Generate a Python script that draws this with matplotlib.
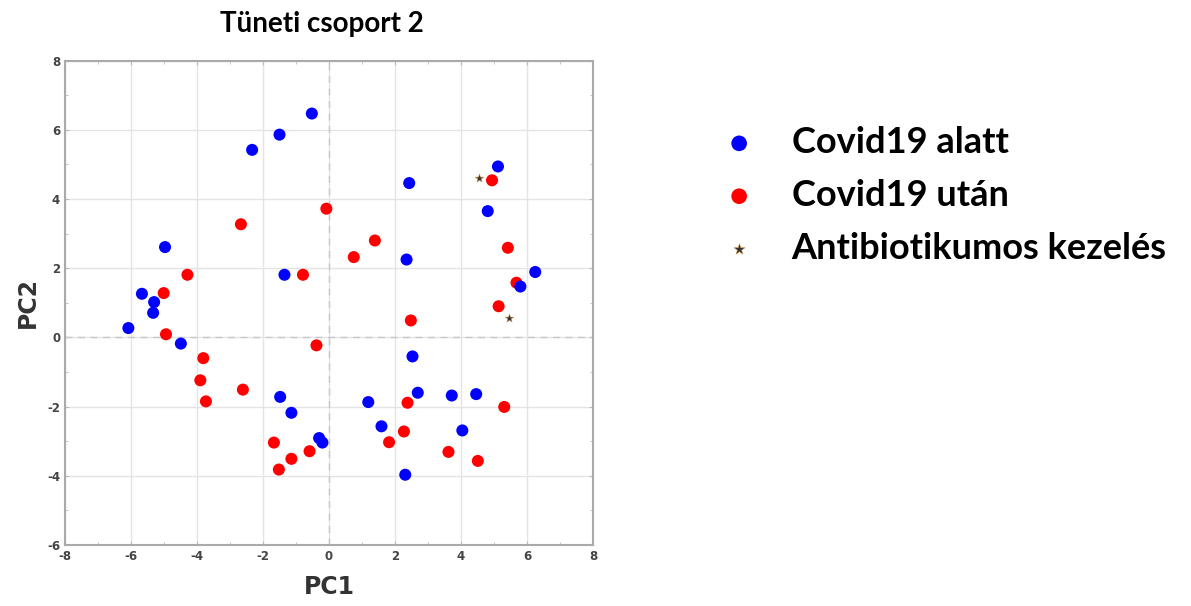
import matplotlib.pyplot as plt
import numpy as np

plt.rcParams['axes.unicode_minus'] = False

# PCA scores
alatt_pc1 = [-0.52, -1.50, -2.33, -4.97, -1.35, -5.67, -5.30, -5.33, -6.08, -4.49,
             -1.48, -1.14, -0.30, -0.20, 5.12, 2.43, 4.81, 2.35, 6.25, 5.80,
             2.53, 2.69, 3.72, 4.46, 1.19, 1.59, 4.04, 2.31]
alatt_pc2 = [6.47, 5.86, 5.42, 2.61, 1.81, 1.26, 1.02, 0.71, 0.27, -0.18,
             -1.72, -2.18, -2.91, -3.04, 4.94, 4.46, 3.65, 2.25, 1.89, 1.47,
             -0.55, -1.60, -1.68, -1.64, -1.87, -2.57, -2.69, -3.97]

utan_pc1 = [-0.08, -2.67, -4.29, -0.79, -5.01, 4.94, 1.39, 0.75, 5.42, 5.68,
            -4.94, -0.38, -3.81, -3.90, -2.61, -3.73, -1.67, -0.59, -1.14, -1.52,
            5.14, 2.48, 2.38, 5.31, 2.27, 1.82, 3.62, 4.51]
utan_pc2 = [3.72, 3.27, 1.81, 1.81, 1.28, 4.54, 2.80, 2.32, 2.59, 1.58,
            0.09, -0.23, -0.60, -1.24, -1.51, -1.85, -3.04, -3.29, -3.51, -3.82,
            0.90, 0.49, -1.89, -2.01, -2.72, -3.03, -3.31, -3.57]

ab_pc1 = [4.55, 5.46]
ab_pc2 = [4.62, 0.57]

labels = ['Covid19 alatt', 'Covid19 után', 'Antibiotikumos kezelés']

fig = plt.figure(figsize=(11.91, 6.06), dpi=100)
ax = fig.add_axes([0.0546, 0.1007, 0.4433, 0.7993])

ax.scatter(utan_pc1, utan_pc2, s=75, color='#ff0000', edgecolors='none', zorder=3, label=labels[1])
ax.scatter(alatt_pc1, alatt_pc2, s=75, color='#0000ff', edgecolors='none', zorder=3, label=labels[0])
ax.scatter(ab_pc1, ab_pc2, s=40, marker='*', color='#333333', edgecolors='#c08a40',
           linewidths=0.4, zorder=4, label=labels[2])

ax.set_xlim(-8, 8)
ax.set_ylim(-6, 8)
ax.set_xticks(np.arange(-8, 9, 2))
ax.set_yticks(np.arange(-6, 9, 2))
ax.set_xticks(np.arange(-8, 9, 1), minor=True)
ax.set_yticks(np.arange(-6, 9, 1), minor=True)
ax.grid(True, which='major', color='#e4e4e4', lw=1)
ax.axhline(0, color='#c8c8c8', ls=(0, (5, 4)), lw=1)
ax.axvline(0, color='#c8c8c8', ls=(0, (5, 4)), lw=1)
ax.tick_params(which='both', direction='in', color='#bbbbbb', labelsize=8.5,
               labelcolor='#444444', length=3, top=True, right=True)
ax.tick_params(which='minor', length=2)
for lab in ax.get_xticklabels() + ax.get_yticklabels():
    lab.set_fontweight('bold')
for sp in ax.spines.values():
    sp.set_color('#aaaaaa')
    sp.set_linewidth(1.5)

ax.set_xlabel('PC1', fontsize=17, fontweight='bold', color='#333333', labelpad=9)
ax.set_ylabel('PC2', fontsize=17, fontweight='bold', color='#333333', labelpad=5)
fig.text(0.27, 0.961, 'Tüneti csoport 2', fontsize=20, fontweight='bold',
         family='Lato', ha='center', va='center')

h, l = ax.get_legend_handles_labels()
order = [1, 0, 2]
fig.legend([h[i] for i in order], [l[i] for i in order], loc='upper left',
           bbox_to_anchor=(0.563, 0.846), frameon=False, markerscale=1.3,
           prop={'family': 'Lato', 'weight': 'bold', 'size': 26},
           handlelength=2, handletextpad=0.45, labelspacing=0.55)

fig.savefig('out.png', dpi=100, facecolor='white')
